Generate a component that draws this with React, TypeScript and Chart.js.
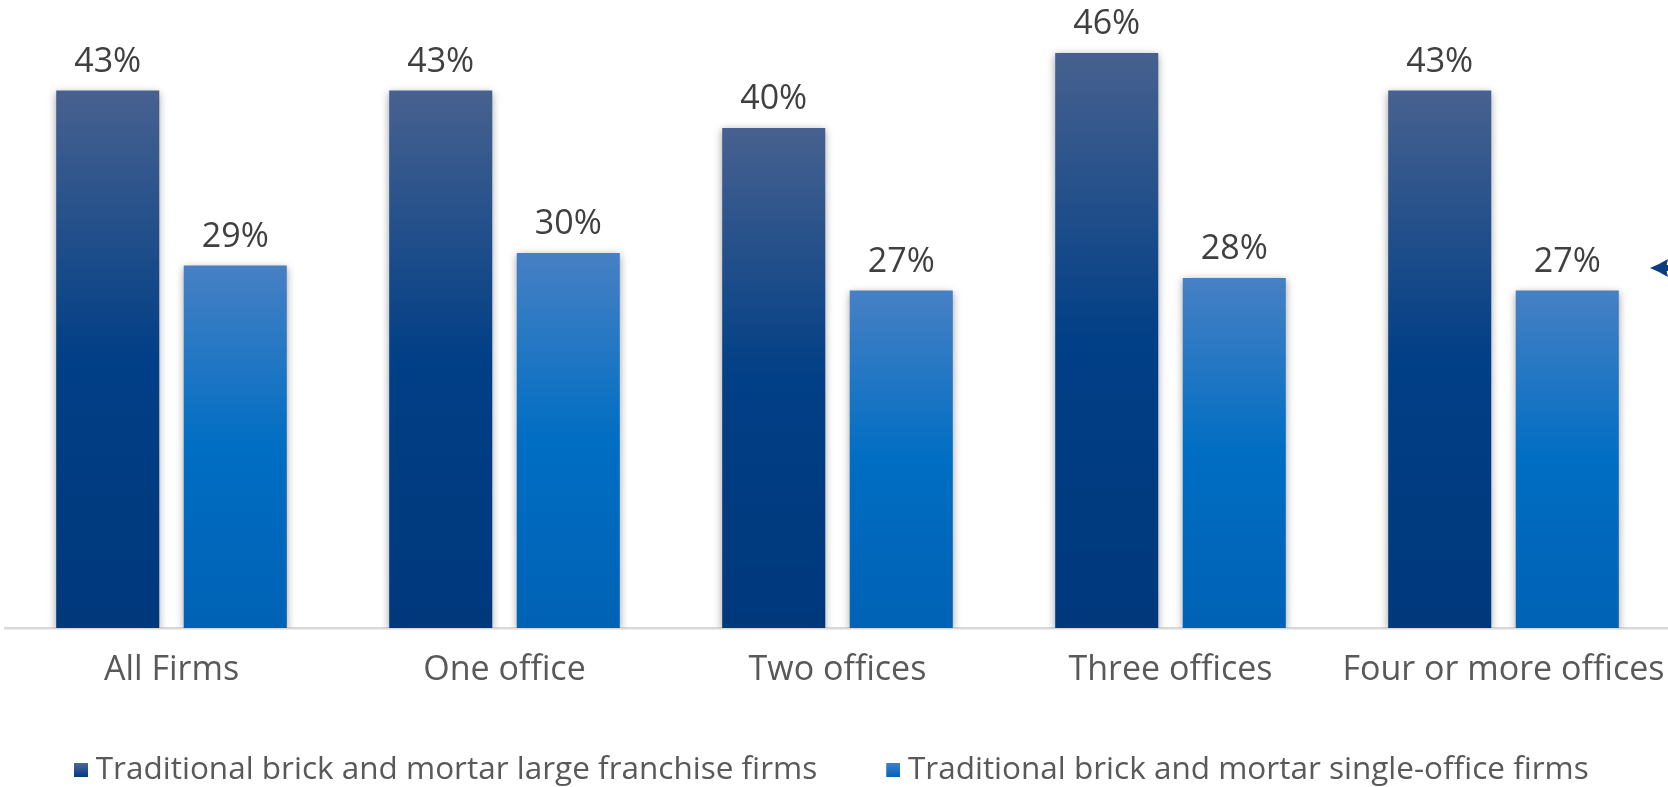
import React, { useEffect, useRef } from "react";
import { Chart, registerables } from "chart.js";

Chart.register(...registerables);

const categories = ["All Firms", "One office", "Two offices", "Three offices", "Four or more offices"];
const largeFranchise = [43, 43, 40, 46, 43];
const singleOffice = [29, 30, 27, 28, 27];
const seriesNames = [
  "Traditional brick and mortar large franchise firms",
  "Traditional brick and mortar single-office firms",
];

const darkStops: [number, string][] = [[0, "#47618f"], [0.5, "#013f86"], [1, "#00387c"]];
const lightStops: [number, string][] = [[0, "#4780c4"], [0.5, "#006ec3"], [1, "#0062b5"]];

function barFill(stops: [number, string][], solid: string) {
  return (c: any) => {
    const chart = c.chart;
    const area = chart.chartArea;
    if (!area || c.type !== "data" || typeof c.raw !== "number") return solid;
    const y = chart.scales.y;
    const top = y.getPixelForValue(c.raw);
    const bottom = y.getPixelForValue(0);
    const g = chart.ctx.createLinearGradient(0, top, 0, bottom);
    stops.forEach(([o, col]) => g.addColorStop(o, col));
    return g;
  };
}

// legend swatch: 14px square at the right end of a wider transparent image
function legendSwatch(top: string, bottom: string) {
  const c = document.createElement("canvas");
  c.width = 36;
  c.height = 14;
  const x = c.getContext("2d")!;
  const g = x.createLinearGradient(0, 0, 0, 14);
  g.addColorStop(0, top);
  g.addColorStop(1, bottom);
  x.fillStyle = g;
  x.fillRect(22, 0, 14, 14);
  return c;
}

const decorPlugin = {
  id: "decor",
  beforeDatasetsDraw(chart: any) {
    const ctx = chart.ctx;
    ctx.save();
    ctx.shadowColor = "rgba(0,0,0,0.38)";
    ctx.shadowBlur = 8;
    ctx.shadowOffsetX = 0;
    ctx.shadowOffsetY = 2;
  },
  afterDatasetsDraw(chart: any) {
    const ctx = chart.ctx;
    ctx.restore();
    ctx.save();
    ctx.font = "34px 'Open Sans'";
    ctx.fillStyle = "#404040";
    ctx.textAlign = "center";
    ctx.textBaseline = "alphabetic";
    chart.data.datasets.forEach((ds: any, i: number) => {
      const meta = chart.getDatasetMeta(i);
      meta.data.forEach((el: any, j: number) => {
        ctx.fillText(ds.data[j] + "%", el.x, el.y - 19);
      });
    });
    ctx.restore();
  },
  afterDraw(chart: any) {
    // partially visible arrow callout at the right edge
    const ctx = chart.ctx;
    const y = chart.scales.y.getPixelForValue(28.8);
    const x = chart.chartArea.right - 20;
    ctx.save();
    ctx.fillStyle = "#0a3d80";
    ctx.beginPath();
    ctx.moveTo(x, y);
    ctx.quadraticCurveTo(x + 10, y - 4, x + 18, y - 9);
    ctx.quadraticCurveTo(x + 15, y, x + 18, y + 9);
    ctx.quadraticCurveTo(x + 10, y + 4, x, y);
    ctx.fill();
    ctx.fillRect(x + 14, y - 3, 14, 6);
    ctx.restore();
  },
};

export default function App() {
  const ref = useRef<HTMLCanvasElement | null>(null);
  useEffect(() => {
    if (!ref.current) return;
    const swatches = [legendSwatch("#4d679a", "#003a80"), legendSwatch("#3f7fc8", "#0064bb")];
    const chart = new Chart(ref.current, {
      type: "bar",
      data: {
        labels: categories,
        datasets: [
          {
            label: seriesNames[0],
            data: largeFranchise,
            backgroundColor: barFill(darkStops, "#123f80"),
            categoryPercentage: 0.766,
            barPercentage: 0.808,
          },
          {
            label: seriesNames[1],
            data: singleOffice,
            backgroundColor: barFill(lightStops, "#0a66be"),
            categoryPercentage: 0.766,
            barPercentage: 0.808,
          },
        ],
      },
      options: {
        animation: false,
        responsive: false,
        maintainAspectRatio: false,
        layout: { padding: { left: 5, right: 10, top: 3, bottom: 0 } },
        scales: {
          x: {
            grid: { display: false, drawTicks: false },
            border: { display: true, color: "#d9d9d9", width: 2.5 },
            ticks: {
              color: "#595959",
              font: { family: "'Open Sans'", size: 34 },
              padding: 22,
              maxRotation: 0,
              autoSkip: false,
            },
            afterFit: (axis: any) => {
              axis.height = 71.5;
              axis.paddingLeft = 0;
              axis.paddingRight = 0;
            },
          },
          y: { display: false, min: 0, max: 50 },
        },
        plugins: {
          tooltip: { enabled: false },
          legend: {
            position: "bottom",
            align: "start",
            labels: {
              color: "#595959",
              font: { family: "'Open Sans'", size: 31.5 },
              usePointStyle: true,
              pointStyleWidth: 20,
              boxHeight: 14,
              padding: 55,
              generateLabels: (ch: any) => {
                const items = Chart.defaults.plugins.legend.labels.generateLabels(ch);
                items.forEach((it: any, i: number) => {
                  it.pointStyle = swatches[i];
                });
                return items;
              },
            },
          },
        },
      },
      plugins: [decorPlugin],
    });
    return () => chart.destroy();
  }, []);
  return (
    <div style={{ position: "absolute", left: 0, top: 0, width: 1668, height: 787, overflow: "hidden", background: "#fff" }}>
      <canvas ref={ref} width={1680} height={796} style={{ width: 1680, height: 796, display: "block" }} />
    </div>
  );
}
